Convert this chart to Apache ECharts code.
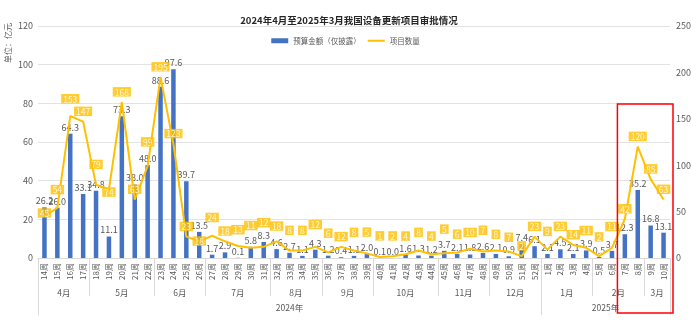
<!DOCTYPE html>
<html>
<head>
<meta charset="utf-8">
<script src="https://cdn.jsdelivr.net/npm/echarts/dist/echarts.min.js"></script>
<style>
  html, body { margin: 0; padding: 0; background: #fff; }
  #chart { width: 691px; height: 328px; }
</style>
</head>
<body>
<div id="chart"></div>
<script>
// Weekly categories: 2024 weeks 14-52, then 2025 weeks 1-10
const weeks = [
  '14周','15周','16周','17周','18周','19周','20周','21周','22周','23周','24周','25周','26周',
  '27周','28周','29周','30周','31周','32周','33周','34周','35周','36周','37周','38周','39周',
  '40周','41周','42周','43周','44周','45周','46周','47周','48周','49周','50周','51周','52周',
  '1周','2周','3周','4周','5周','6周','7周','8周','9周','10周'
];

// 预算金额（仅披露），亿元
const budget = [
  26.2, 26.0, 64.3, 33.1, 34.8, 11.1, 73.3, 38.0, 48.0, 88.6, 97.6, 39.7, 13.5,
  1.7, 2.9, 0.1, 5.8, 8.3, 4.6, 2.7, 1.1, 4.3, 1.2, 0.4, 1.1, 2.0,
  0.1, 0.0, 1.6, 1.3, 1.2, 3.7, 2.1, 1.8, 2.6, 2.1, 0.9, 7.4, 6.1,
  2.1, 4.5, 2.1, 3.9, 0.5, 3.7, 12.3, 35.2, 16.8, 13.1
];

// 项目数量
const projects = [
  45, 54, 153, 147, 79, 74, 168, 63, 99, 195, 123, 23, 18,
  24, 18, 13, 11, 12, 18, 8, 8, 12, 6, 12, 8, 5,
  1, 2, 4, 8, 4, 5, 6, 10, 7, 8, 7, 2, 23,
  9, 23, 14, 11, 2, 11, 42, 120, 85, 63
];

// Month groups (number of weeks in each)
const months = ['4月','5月','6月','7月','8月','9月','10月','11月','12月','1月','2月','3月'];
const monthWeekCounts = [4, 5, 4, 5, 4, 4, 5, 4, 4, 4, 4, 2];

// Year groups
const years = ['2024年', '2025年'];
const yearWeekCounts = [39, 10];

// Extra upward shift (px) of each count box so the boxes clear one another
const countLabelLift = [
  -7, 8, 7, 0, 10, -13, 0, 0, 14, 0, 0, 0, -10,
  8, 0, 6, 12, 14, 5, 10, 10, 12, 9, 0, 8, 11,
  11, 10, 8, 8, 8, 14, 8, 6, 11, 6, 4, 0, 0,
  8, 0, 0, 7, 9, 11, 0, 0, 0, 0
];

const FONT = '"Noto Sans CJK SC", "Noto Sans", sans-serif';
const GREY_TEXT = '#595959';
const RULE = '#d9d9d9';
const YELLOW = '#FFC000';
const BASE_LABEL_GAP = 5;

// start index of every month / year group
function groupStarts(counts) {
  const starts = [];
  let acc = 0;
  counts.forEach(c => { starts.push(acc); acc += c; });
  return starts;
}
const monthStarts = groupStarts(monthWeekCounts);
const yearStarts = groupStarts(yearWeekCounts);

const countLabelItems = projects.map((v, i) => ({
  value: v,
  label: { distance: BASE_LABEL_GAP + countLabelLift[i] }
}));

const chart = echarts.init(document.getElementById('chart'), null, { renderer: 'canvas' });

chart.setOption({
  animation: false,
  textStyle: { fontFamily: FONT },
  title: {
    text: '2024年4月至2025年3月我国设备更新项目审批情况',
    left: 349,
    textAlign: 'center',
    top: 16,
    padding: 0,
    textStyle: { fontSize: 9.5, fontWeight: 'bold', color: '#262626', fontFamily: FONT }
  },
  legend: {
    top: 37,
    left: 'center',
    itemWidth: 17,
    itemHeight: 5,
    itemGap: 7,
    padding: 0,
    symbolKeepAspect: true,
    textStyle: { fontSize: 7.5, color: GREY_TEXT, fontFamily: FONT },
    data: [
      { name: '预算金额（仅披露）', icon: 'rect' },
      { name: '项目数量', icon: 'path://M0,0h17v2h-17z' }
    ]
  },
  grid: {
    left: 38,
    right: 21,
    top: 26,
    bottom: 70,
    containLabel: false,
    outerBoundsMode: 'none'
  },
  xAxis: [
    {
      type: 'category',
      data: weeks,
      boundaryGap: true,
      axisLine: { show: true, lineStyle: { color: RULE, width: 1 } },
      axisTick: {
        show: true,
        length: 38,
        lineStyle: { color: RULE },
        interval: (idx) => monthStarts.indexOf(idx) !== -1
      },
      axisLabel: {
        interval: 0,
        rotate: 90,
        margin: 5,
        fontSize: 8,
        color: GREY_TEXT,
        fontFamily: FONT
      }
    },
    {
      type: 'category',
      data: weeks,
      boundaryGap: true,
      position: 'bottom',
      axisLine: { show: false },
      axisLabel: { show: false },
      axisTick: {
        show: true,
        length: 57,
        lineStyle: { color: RULE },
        interval: (idx) => yearStarts.indexOf(idx) !== -1
      }
    }
  ],
  yAxis: [
    {
      type: 'value',
      min: 0,
      max: 120,
      interval: 20,
      axisLine: { show: false },
      axisTick: { show: false },
      axisLabel: { fontSize: 9, color: GREY_TEXT, margin: 5, fontFamily: FONT },
      splitLine: { lineStyle: { color: '#e3e3e3', width: 1 } }
    },
    {
      type: 'value',
      min: 0,
      max: 250,
      interval: 50,
      position: 'right',
      axisLine: { show: false },
      axisTick: { show: false },
      axisLabel: { fontSize: 9, color: GREY_TEXT, margin: 6, fontFamily: FONT },
      splitLine: { show: false }
    }
  ],
  series: [
    {
      name: '预算金额（仅披露）',
      type: 'bar',
      xAxisIndex: 0,
      yAxisIndex: 0,
      data: budget,
      barWidth: 4.5,
      itemStyle: { color: '#4472C4' },
      label: {
        show: true,
        position: 'top',
        distance: 2,
        fontSize: 9,
        color: GREY_TEXT,
        fontFamily: FONT,
        formatter: (p) => p.value.toFixed(1)
      },
      z: 2
    },
    {
      name: '项目数量',
      type: 'line',
      xAxisIndex: 0,
      yAxisIndex: 1,
      data: projects,
      symbol: 'none',
      lineStyle: { color: YELLOW, width: 2 },
      itemStyle: { color: YELLOW },
      z: 3
    },
    {
      // value boxes for the project counts, anchored on the same points as the line
      name: '项目数量标签',
      type: 'scatter',
      xAxisIndex: 0,
      yAxisIndex: 1,
      data: countLabelItems,
      symbolSize: 1,
      itemStyle: { color: 'rgba(0,0,0,0)' },
      label: {
        show: true,
        position: 'top',
        distance: BASE_LABEL_GAP,
        fontSize: 8.5,
        color: '#ffffff',
        backgroundColor: YELLOW,
        padding: [1, 2, 0, 2],
        fontFamily: FONT,
        formatter: (p) => String(p.value)
      },
      labelLayout: { hideOverlap: false },
      silent: true,
      z: 4
    }
  ]
});

// Group captions under the week axis plus the highlight frame around the latest weeks
function drawAxisGroups() {
  const px = (i) => chart.convertToPixel({ xAxisIndex: 0 }, i);
  const band = px(1) - px(0);
  const baseY = chart.convertToPixel({ yAxisIndex: 0 }, 0);
  const elements = [];

  const addGroupText = (labels, starts, counts, y) => {
    labels.forEach((txt, k) => {
      const first = starts[k];
      const last = first + counts[k] - 1;
      const cx = (px(first) + px(last)) / 2;
      elements.push({
        type: 'text',
        x: cx,
        y: y,
        style: {
          text: txt,
          fill: GREY_TEXT,
          font: '8.5px ' + FONT,
          align: 'center',
          verticalAlign: 'middle'
        }
      });
    });
  };
  addGroupText(months, monthStarts, monthWeekCounts, baseY + 35);
  addGroupText(years, yearStarts, yearWeekCounts, baseY + 50);

  // unit caption for the left axis
  elements.push({
    type: 'text',
    x: 8,
    y: 43,
    rotation: Math.PI / 2,
    style: {
      text: '单位：亿元',
      fill: GREY_TEXT,
      font: '8px ' + FONT,
      align: 'center',
      verticalAlign: 'middle'
    }
  });

  // red frame around weeks 7-10 of 2025
  const firstIdx = weeks.length - 4;
  const lastIdx = weeks.length - 1;
  const left = px(firstIdx) - band / 2 - 1;
  const right = px(lastIdx) + band / 2 + 3;
  const top = chart.convertToPixel({ yAxisIndex: 1 }, 166);
  const bottom = baseY + 55;
  elements.push({
    type: 'rect',
    shape: { x: left, y: top, width: right - left, height: bottom - top },
    style: { fill: 'none', stroke: '#FF0000', lineWidth: 1.5 },
    z: 10
  });

  chart.setOption({ graphic: elements });
}
drawAxisGroups();
</script>
</body>
</html>
